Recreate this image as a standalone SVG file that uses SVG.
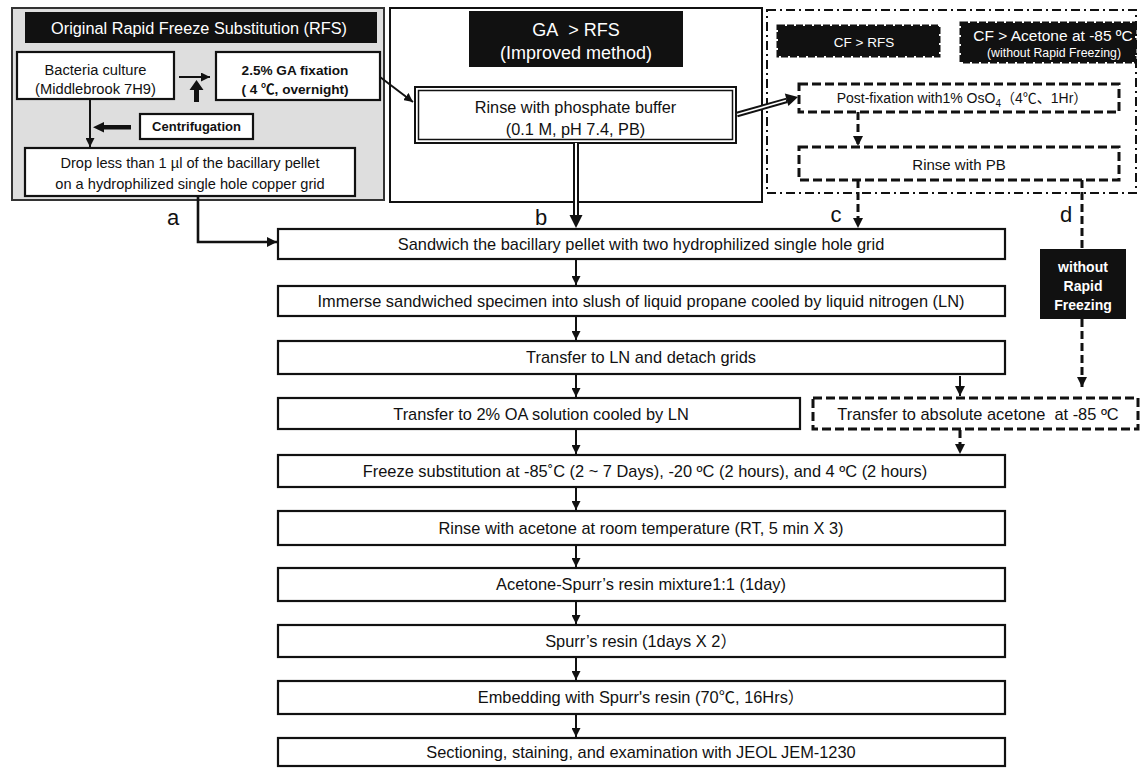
<svg xmlns="http://www.w3.org/2000/svg" width="1140" height="768" viewBox="0 0 1140 768">
<defs>
<style>
text{font-family:"Liberation Sans","Noto Sans CJK JP",Arial,sans-serif;fill:#111;text-anchor:middle}
.t14{font-size:14px}
.m{font-size:16.4px}
.b14{font-size:14px;font-weight:bold}
.w{fill:#fff}
.lbl{font-size:22px}
.box{fill:#fff;stroke:#111;stroke-width:2.2}
.dbox{fill:#fff;stroke:#111;stroke-width:3;stroke-dasharray:9,4}
.blk{fill:#111}
.rag{fill:#111;stroke:#111;stroke-width:3;stroke-dasharray:7,2}
.ln{fill:none;stroke:#111;stroke-width:2}
.dl{fill:none;stroke:#111;stroke-width:3;stroke-dasharray:8,4}
</style>
<marker id="ah" viewBox="0 0 10 10" refX="10" refY="5" markerWidth="9" markerHeight="9" markerUnits="userSpaceOnUse" orient="auto"><path d="M0,0 L10,5 L0,10 z" fill="#111"/></marker>
<marker id="ahd" viewBox="0 0 10 10" refX="10" refY="5" markerWidth="10" markerHeight="10" markerUnits="userSpaceOnUse" orient="auto"><path d="M0,0 L10,5 L0,10 z" fill="#111"/></marker>
</defs>
<rect width="1140" height="768" fill="#fff"/>

<g id="panel-original">
<rect x="12" y="8" width="372" height="192" fill="#dedede" stroke="#333" stroke-width="2"/>
<rect x="25" y="12" width="352" height="31" class="blk"/>
<text x="199" y="33.5" class="w" style="font-size:16.3px">Original Rapid Freeze Substitution (RFS)</text>
</g>
<g id="node-bacteria">
<rect x="17" y="52" width="157" height="47" class="box"/>
<text x="95.5" y="75" style="font-size:14.7px">Bacteria culture</text>
<text x="95.5" y="94" style="font-size:14.7px">(Middlebrook 7H9)</text>
</g>
<g id="node-ga">
<rect x="216" y="52" width="164" height="48" class="box"/>
<text x="295" y="75" style="font-size:13.6px;font-weight:bold">2.5% GA fixation</text>
<text x="295" y="94" style="font-size:13.6px;font-weight:bold">( 4 ℃, overnight)</text>
</g>
<g id="node-centrifugation">
<rect x="140" y="114" width="113" height="25" class="box"/>
<text x="196.5" y="131" style="font-size:13px;font-weight:bold">Centrifugation</text>
</g>
<g id="node-drop">
<rect x="25" y="148" width="330" height="48" class="box"/>
<text x="190" y="168" style="font-size:14.6px">Drop less than 1 µl of the bacillary pellet</text>
<text x="190" y="189" style="font-size:14.6px">on a hydrophilized single hole copper grid</text>
</g>

<g id="panel-improved">
<rect x="390" y="8" width="372" height="194" fill="#fff" stroke="#111" stroke-width="2"/>
<rect x="469" y="11" width="214" height="56" class="blk"/>
<text x="576" y="36" class="w" style="font-size:18px">GA&#160; &gt; RFS</text>
<text x="576" y="59" class="w" style="font-size:18px">(Improved method)</text>
</g>
<g id="node-rinse-pb">
<rect x="415" y="87" width="321" height="56" fill="#fff" stroke="#111" stroke-width="2"/>
<rect x="418.5" y="90.5" width="314" height="49" fill="none" stroke="#111" stroke-width="1.5"/>
<text x="575.5" y="112.5" style="font-size:16.3px">Rinse with phosphate buffer</text>
<text x="575.5" y="134.5" style="font-size:16.3px">(0.1 M, pH 7.4, PB)</text>
</g>

<g id="panel-cf">
<rect x="767" y="10" width="369" height="183" fill="none" stroke="#111" stroke-width="2" stroke-dasharray="9,4,2,4"/>
<rect x="778" y="26" width="161" height="30" class="rag"/>
<text x="864" y="46.5" class="w" style="font-size:13.5px">CF &gt; RFS</text>
<rect x="961" y="23" width="174" height="39" class="rag"/>
<text x="1053" y="41" class="w" style="font-size:15.5px">CF &gt; Acetone at -85 ºC</text>
<text x="1054" y="57" class="w" style="font-size:12.3px">(without Rapid Freezing)</text>
</g>
<g id="node-postfix">
<rect x="799" y="84" width="320" height="28" class="dbox"/>
<text x="962" y="103" class="t14">Post-fixation with1% OsO<tspan dy="4" style="font-size:10px">4</tspan><tspan dy="-4">（4℃、1Hr）</tspan></text>
</g>
<g id="node-rinse-pb2">
<rect x="799" y="147" width="320" height="33" class="dbox"/>
<text x="959" y="169.5" style="font-size:15px">Rinse with PB</text>
</g>
<g id="node-without">
<rect x="1040" y="249" width="86" height="70" class="blk"/>
<text x="1083" y="272" class="b14 w">without</text>
<text x="1083" y="291" class="b14 w">Rapid</text>
<text x="1083" y="310" class="b14 w">Freezing</text>
</g>
<g id="node-abs-acetone">
<rect x="813" y="398" width="325" height="31" class="dbox"/>
<text x="978" y="419.5" class="m">Transfer to absolute acetone&#160; at -85 ºC</text>
</g>

<g id="node-sandwich"><rect x="278" y="229" width="727" height="30" class="box"/><text x="641" y="250" class="m">Sandwich the bacillary pellet with two hydrophilized single hole grid</text></g>
<g id="node-immerse"><rect x="278" y="286" width="727" height="30" class="box"/><text x="641" y="307" class="m">Immerse sandwiched specimen into slush of liquid propane cooled by liquid nitrogen (LN)</text></g>
<g id="node-transfer-ln"><rect x="278" y="341" width="727" height="33" class="box"/><text x="641" y="363" class="m">Transfer to LN and detach grids</text></g>
<g id="node-oa"><rect x="278" y="398" width="522" height="31" class="box"/><text x="541" y="419.5" class="m">Transfer to 2% OA solution cooled by LN</text></g>
<g id="node-freeze"><rect x="278" y="455" width="727" height="32" class="box"/><text x="645" y="477" class="m">Freeze substitution at -85˚C (2 ~ 7 Days), -20 ºC (2 hours), and 4 ºC (2 hours)</text></g>
<g id="node-rinse-acetone"><rect x="278" y="511" width="727" height="34" class="box"/><text x="641" y="534" class="m">Rinse with acetone at room temperature (RT, 5 min X 3)</text></g>
<g id="node-acetone-spurr"><rect x="278" y="568" width="727" height="33" class="box"/><text x="641" y="590" class="m">Acetone-Spurr’s resin mixture1:1 (1day)</text></g>
<g id="node-spurr"><rect x="278" y="625" width="727" height="32" class="box"/><text x="641" y="647" class="m">Spurr’s resin (1days X 2）</text></g>
<g id="node-embedding"><rect x="278" y="681" width="727" height="33" class="box"/><text x="641" y="703" class="m">Embedding with Spurr's resin (70℃, 16Hrs）</text></g>
<g id="node-sectioning"><rect x="278" y="738" width="727" height="28" class="box"/><text x="641" y="758" class="m">Sectioning, staining, and examination with JEOL JEM-1230</text></g>

<g id="connectors">
<line x1="179" y1="77" x2="210" y2="77" class="ln" marker-end="url(#ah)"/>
<polygon points="194,102 199,102 199,90 203.5,90 196.5,80 189.5,90 194,90" fill="#111"/>
<polygon points="131,125 131,129.5 104,129.5 104,132.5 93,127.2 104,122 104,125" fill="#111"/>
<line x1="90" y1="99" x2="90" y2="147" class="ln" marker-end="url(#ah)"/>
<path d="M198,196 V242 H277" fill="none" stroke="#111" stroke-width="2.6" marker-end="url(#ahd)"/>
<line x1="380" y1="77" x2="413" y2="102" class="ln" marker-end="url(#ah)"/>
<line x1="576" y1="143" x2="576" y2="217" stroke="#111" stroke-width="6"/>
<line x1="576" y1="143" x2="576" y2="215" stroke="#fff" stroke-width="2"/>
<polygon points="569.5,215 582.5,215 576,228" fill="#111"/>
<line x1="737" y1="114.5" x2="787" y2="100.3" stroke="#111" stroke-width="5.5"/>
<line x1="737" y1="114.5" x2="786" y2="100.6" stroke="#fff" stroke-width="1.6"/>
<polygon points="798,97 788.4,106 784.8,93.6" fill="#111"/>
<line x1="858" y1="112" x2="858" y2="146" class="dl" marker-end="url(#ahd)"/>
<line x1="858" y1="180" x2="858" y2="228" class="dl" marker-end="url(#ahd)"/>
<line x1="1082" y1="180" x2="1082" y2="249" class="dl"/>
<line x1="1082" y1="319" x2="1082" y2="387" class="dl" marker-end="url(#ahd)"/>
<line x1="960" y1="376" x2="960" y2="396" class="ln" marker-end="url(#ahd)"/>
<line x1="960" y1="430" x2="960" y2="454" class="dl" stroke-dasharray="10,3" marker-end="url(#ahd)"/>
<line x1="576" y1="260" x2="576" y2="285" class="ln" marker-end="url(#ah)"/>
<line x1="576" y1="317" x2="576" y2="340" class="ln" marker-end="url(#ah)"/>
<line x1="576" y1="375" x2="576" y2="397" class="ln" marker-end="url(#ah)"/>
<line x1="576" y1="430" x2="576" y2="454" class="ln" marker-end="url(#ah)"/>
<line x1="576" y1="488" x2="576" y2="510" class="ln" marker-end="url(#ah)"/>
<line x1="576" y1="546" x2="576" y2="567" class="ln" marker-end="url(#ah)"/>
<line x1="576" y1="602" x2="576" y2="624" class="ln" marker-end="url(#ah)"/>
<line x1="576" y1="658" x2="576" y2="680" class="ln" marker-end="url(#ah)"/>
<line x1="576" y1="715" x2="576" y2="737" class="ln" marker-end="url(#ah)"/>
<text x="173" y="225" class="lbl">a</text>
<text x="541" y="225" class="lbl">b</text>
<text x="836" y="222" class="lbl">c</text>
<text x="1066" y="222" class="lbl">d</text>
</g>
</svg>
